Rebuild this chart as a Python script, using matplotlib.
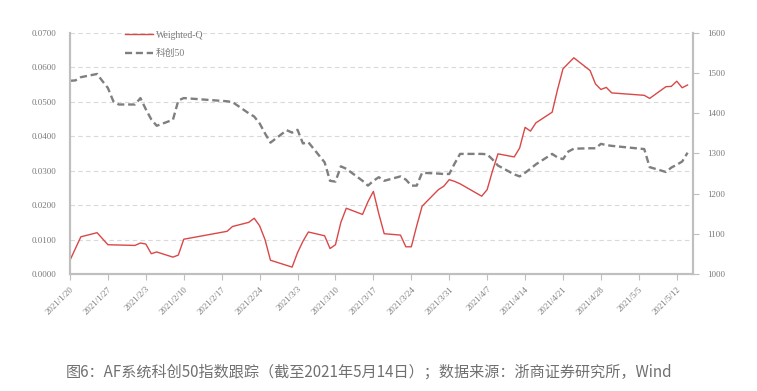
import matplotlib
matplotlib.use("Agg")
import matplotlib.pyplot as plt
import pandas as pd

# ---- data ----
q_dates = ["2021-01-20", "2021-01-22", "2021-01-25", "2021-01-27", "2021-02-01", "2021-02-02",
           "2021-02-03", "2021-02-04", "2021-02-05", "2021-02-08", "2021-02-09", "2021-02-10",
           "2021-02-18", "2021-02-19", "2021-02-22", "2021-02-23", "2021-02-24", "2021-02-25",
           "2021-02-26", "2021-03-01", "2021-03-02", "2021-03-03", "2021-03-04", "2021-03-05",
           "2021-03-08", "2021-03-09", "2021-03-10", "2021-03-11", "2021-03-12", "2021-03-15",
           "2021-03-16", "2021-03-17", "2021-03-18", "2021-03-19", "2021-03-22", "2021-03-23",
           "2021-03-24", "2021-03-25", "2021-03-26", "2021-03-29", "2021-03-30", "2021-03-31",
           "2021-04-01", "2021-04-02", "2021-04-06", "2021-04-07", "2021-04-08", "2021-04-09",
           "2021-04-12", "2021-04-13", "2021-04-14", "2021-04-15", "2021-04-16", "2021-04-19",
           "2021-04-20", "2021-04-21", "2021-04-22", "2021-04-23", "2021-04-26", "2021-04-27",
           "2021-04-28", "2021-04-29", "2021-04-30", "2021-05-06", "2021-05-07", "2021-05-10",
           "2021-05-11", "2021-05-12", "2021-05-13", "2021-05-14"]
weighted_q = [0.0040, 0.0108, 0.0120, 0.0085, 0.0083, 0.0090,
              0.0087, 0.0059, 0.0064, 0.0049, 0.0055, 0.0101,
              0.0124, 0.0138, 0.0150, 0.0162, 0.0140, 0.0100,
              0.0040, 0.0025, 0.0020, 0.0062, 0.0095, 0.0122,
              0.0111, 0.0074, 0.0085, 0.0150, 0.0191, 0.0173,
              0.0210, 0.0240, 0.0175, 0.0117, 0.0113, 0.0079,
              0.0079, 0.0140, 0.0197, 0.0245, 0.0255, 0.0274,
              0.0269, 0.0262, 0.0226, 0.0245, 0.0300, 0.0349,
              0.0340, 0.0366, 0.0426, 0.0415, 0.0439, 0.0470,
              0.0536, 0.0596, 0.0612, 0.0628, 0.0591, 0.0552,
              0.0536, 0.0542, 0.0526, 0.0519, 0.0510, 0.0544,
              0.0545, 0.0560, 0.0541, 0.0549]

k_dates = ["2021-01-20", "2021-01-21", "2021-01-22", "2021-01-25", "2021-01-26", "2021-01-27",
           "2021-01-28", "2021-01-29", "2021-02-01", "2021-02-02", "2021-02-03", "2021-02-04",
           "2021-02-05", "2021-02-08", "2021-02-09", "2021-02-10", "2021-02-18", "2021-02-19",
           "2021-02-22", "2021-02-23", "2021-02-24", "2021-02-25", "2021-02-26", "2021-03-01",
           "2021-03-02", "2021-03-03", "2021-03-04", "2021-03-05", "2021-03-08", "2021-03-09",
           "2021-03-10", "2021-03-11", "2021-03-12", "2021-03-15", "2021-03-16", "2021-03-17",
           "2021-03-18", "2021-03-19", "2021-03-22", "2021-03-23", "2021-03-24", "2021-03-25",
           "2021-03-26", "2021-03-29", "2021-03-30", "2021-03-31", "2021-04-01", "2021-04-02",
           "2021-04-06", "2021-04-07", "2021-04-08", "2021-04-09", "2021-04-12", "2021-04-13",
           "2021-04-14", "2021-04-15", "2021-04-16", "2021-04-19", "2021-04-20", "2021-04-21",
           "2021-04-22", "2021-04-23", "2021-04-26", "2021-04-27", "2021-04-28", "2021-04-29",
           "2021-04-30", "2021-05-06", "2021-05-07", "2021-05-10", "2021-05-11", "2021-05-12",
           "2021-05-13", "2021-05-14"]
kc50 = [1481, 1482, 1490, 1498, 1480, 1463,
        1430, 1422, 1422, 1438, 1410, 1385,
        1369, 1384, 1432, 1438, 1430, 1428,
        1400, 1392, 1375, 1350, 1327, 1358,
        1352, 1359, 1325, 1328, 1278, 1232,
        1230, 1268, 1262, 1232, 1220, 1232,
        1241, 1232, 1243, 1235, 1220, 1220,
        1252, 1250, 1249, 1249, 1275, 1299,
        1299, 1298, 1285, 1270, 1248, 1243,
        1252, 1262, 1273, 1299, 1290, 1286,
        1305, 1312, 1313, 1313, 1324, 1321,
        1319, 1311, 1266, 1254, 1265, 1272,
        1280, 1302]

tick_dates = ["2021-01-20", "2021-01-27", "2021-02-03", "2021-02-10", "2021-02-17", "2021-02-24",
              "2021-03-03", "2021-03-10", "2021-03-17", "2021-03-24", "2021-03-31", "2021-04-07",
              "2021-04-14", "2021-04-21", "2021-04-28", "2021-05-05", "2021-05-12"]
tick_labels = ["2021/1/20", "2021/1/27", "2021/2/3", "2021/2/10", "2021/2/17", "2021/2/24",
               "2021/3/3", "2021/3/10", "2021/3/17", "2021/3/24", "2021/3/31", "2021/4/7",
               "2021/4/14", "2021/4/21", "2021/4/28", "2021/5/5", "2021/5/12"]
left_ticks = [0.0, 0.01, 0.02, 0.03, 0.04, 0.05, 0.06, 0.07]
right_ticks = [1000, 1100, 1200, 1300, 1400, 1500, 1600]
caption = "图6：AF系统科创50指数跟踪（截至2021年5月14日）；数据来源：浙商证券研究所，Wind"

# ---- style ----
SERIF = ["Liberation Serif", "Noto Sans CJK SC"]
TXT = "#7a7a7a"
SPINE = "#bfbfbf"
RED = "#d94848"
GRAY = "#7f7f7f"

fig = plt.figure(figsize=(7.57, 3.91), dpi=100)
ax = fig.add_axes([70 / 757, 1 - 274 / 391, (693 - 70) / 757, (274 - 33) / 391])
ax2 = ax.twinx()

qd = pd.to_datetime(q_dates)
kd = pd.to_datetime(k_dates)

l1, = ax.plot(qd, weighted_q, color=RED, lw=1.0, label="Weighted-Q", zorder=3)
l2, = ax2.plot(kd, kc50, color=GRAY, lw=1.7, ls=(0, (3, 1.6)), label="科创50")

ax.set_xlim(pd.Timestamp("2021-01-20"), pd.Timestamp("2021-05-15"))
ax.set_ylim(0, 0.07)
ax2.set_ylim(1000, 1600)

ax.set_yticks(left_ticks)
ax.set_yticklabels([f"{v:.4f}" for v in left_ticks])
ax2.set_yticks(right_ticks)
ax2.set_yticklabels([str(v) for v in right_ticks])

ax.set_xticks(pd.to_datetime(tick_dates))
ax.set_xticklabels(tick_labels, rotation=45, ha="right", va="top",
                   rotation_mode="anchor")

ax.grid(axis="y", color="#d9d9d9", ls=(0, (4, 3)), lw=0.8)
ax.set_axisbelow(True)

for a in (ax, ax2):
    a.spines["top"].set_visible(False)
    for s in ("left", "right", "bottom"):
        a.spines[s].set_color(SPINE)
        a.spines[s].set_linewidth(1.5)

ax.tick_params(axis="y", length=0, pad=10, labelsize=6.5, labelcolor=TXT)
ax.tick_params(axis="x", length=4, width=0.8, color=SPINE, pad=4,
               labelsize=6.3, labelcolor=TXT)
ax2.tick_params(axis="y", length=4, width=0.8, color=SPINE, pad=6,
                labelsize=6.5, labelcolor=TXT)
for lab in ax.get_xticklabels() + ax.get_yticklabels() + ax2.get_yticklabels():
    lab.set_family(SERIF)

leg = fig.legend([l1, l2], ["Weighted-Q", "科创50"], loc="upper left",
                 bbox_to_anchor=(121 / 757, 1 - 27 / 391), frameon=False,
                 prop={"family": SERIF, "size": 7}, handlelength=2.9,
                 labelspacing=0.95, handletextpad=0.3, borderaxespad=0)
for t in leg.get_texts():
    t.set_color(TXT)

fig.text(66 / 757, 1 - 372 / 391, caption, ha="left", va="center",
         fontsize=10.9, color="#707070",
         family=["Noto Sans CJK SC", "DejaVu Sans"])

fig.savefig("out.png", dpi=100)
